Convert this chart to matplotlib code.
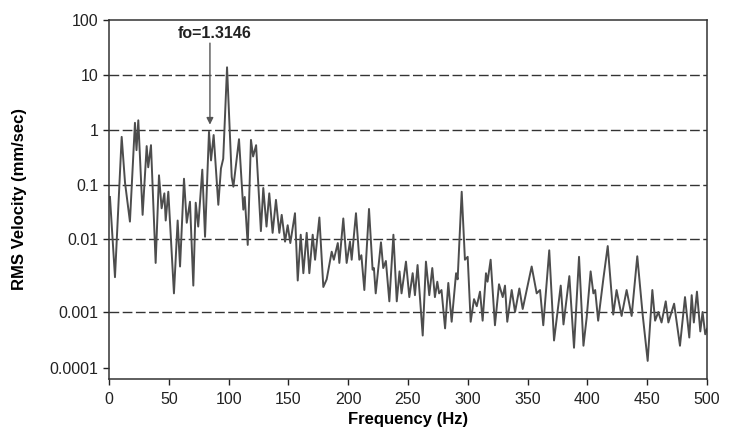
import numpy as np
import matplotlib
matplotlib.use("Agg")
import matplotlib.pyplot as plt

plt.rcParams['font.family'] = ['Liberation Sans', 'DejaVu Sans']

# ---- data ----
freq_hz = [0.8, 5, 10.6, 13.4, 17.5, 21.7, 23, 24.5, 28.1, 31.5, 32.8, 35.1, 39, 41.8, 44, 46.3,
           47.4, 49.6, 54.3, 57.4, 59.4, 62.7, 65, 67.7, 70.5, 72.5, 74.6, 78, 80.3, 83.6, 85.3,
           87.5, 91.4, 93.6, 95.5, 98.7, 102.6, 104, 108.7, 112.3, 113.5, 116, 118.7, 120.5, 123,
           127, 129, 131.7, 134, 136.8, 139.6, 142.4, 144.4, 147.2, 149.4, 151.6, 155.5, 157.8,
           160.3, 162.5, 165.3, 167.5, 170.3, 172.3, 175.9, 179.2, 182, 186.2, 188, 191.3, 192.6,
           195.9, 198.7, 201.5, 202.9, 206.5, 209.3, 211, 213.5, 217.4, 220.4, 221.5, 223, 227.4,
           229.3, 231.5, 234.4, 237.8, 240.6, 242.9, 244.6, 248.3, 251.1, 253.9, 255.8, 258, 262.3,
           265, 267.8, 270.3, 272.5, 274.5, 276, 278, 281, 283.7, 286.5, 290.2, 291.5, 294.9,
           297.6, 299.9, 302.4, 305.2, 307.5, 310.2, 312.4, 315.2, 316.5, 319.1, 322.7, 326.1,
           329.2, 331.1, 333, 336.7, 339.5, 343.1, 345.9, 353.4, 357.6, 360.4, 363.1, 368.1,
           372.1, 377.7, 380, 384.9, 388.8, 393, 396.7, 399.4, 402.7, 405, 406.5, 409, 413.4, 417,
           421.6, 424.4, 428.6, 432.8, 437, 441.7, 446.2, 450.4, 454.3, 456.6, 459.3, 462, 465.5,
           467.7, 472.5, 477.4, 481.6, 485.2, 487.2, 489, 491.6, 494.4, 496.3, 498.5, 500]
rms_velocity = [0.06, 0.003, 0.75, 0.11, 0.021, 1.35, 0.43, 1.5, 0.028, 0.51, 0.21, 0.53, 0.0047,
                0.15, 0.037, 0.07, 0.022, 0.075, 0.0018, 0.022, 0.0042, 0.13, 0.02, 0.049, 0.0023,
                0.047, 0.017, 0.19, 0.011, 0.93, 0.28, 0.81, 0.043, 0.2, 0.3, 13.8, 0.14, 0.093,
                0.68, 0.035, 0.06, 0.0083, 0.66, 0.33, 0.53, 0.014, 0.088, 0.017, 0.07, 0.013,
                0.053, 0.013, 0.028, 0.0092, 0.018, 0.0088, 0.03, 0.0027, 0.012, 0.0034, 0.013,
                0.0034, 0.012, 0.0052, 0.025, 0.0022, 0.0028, 0.0067, 0.0052, 0.0088, 0.0047,
                0.024, 0.0047, 0.0092, 0.0052, 0.03, 0.0052, 0.006, 0.002, 0.036, 0.0038, 0.004,
                0.0018, 0.009, 0.004, 0.005, 0.0014, 0.012, 0.0014, 0.0036, 0.0018, 0.0049, 0.0016,
                0.0034, 0.0017, 0.0044, 0.00038, 0.0049, 0.0017, 0.004, 0.0016, 0.0026, 0.0018,
                0.002, 0.00051, 0.0025, 0.00067, 0.0034, 0.0028, 0.075, 0.0052, 0.0057, 0.00067,
                0.0015, 0.0012, 0.0019, 0.0007, 0.0034, 0.0026, 0.0052, 0.00058, 0.0024, 0.0016,
                0.0023, 0.00067, 0.002, 0.001, 0.0021, 0.0011, 0.0042, 0.0018, 0.002, 0.00058,
                0.007, 0.00031, 0.0023, 0.0006, 0.0031, 0.00023, 0.0057, 0.00025, 0.0008, 0.0036,
                0.0018, 0.002, 0.0007, 0.0029, 0.008, 0.0009, 0.002, 0.00085, 0.002, 0.00085,
                0.0058, 0.0009, 0.000134, 0.002, 0.0007, 0.001, 0.00065, 0.0014, 0.00065, 0.0013,
                0.00025, 0.0016, 0.00035, 0.0017, 0.00065, 0.0019, 0.00045, 0.001, 0.0004, 0.0005]

y_ticks = [0.0001, 0.001, 0.01, 0.1, 1, 10, 100]
y_tick_labels = ['0.0001', '0.001', '0.01', '0.1', '1', '10', '100']
grid_levels = [0.001, 0.01, 0.1, 1, 10]
x_ticks = list(range(0, 501, 50))
annotation_text = 'fo=1.3146'
annotation_freq = 84.4

# ---- non-uniform log axis (as in the original figure) ----
_K = np.array([-6, -4, -3, -2, -1, 0, 1, 2, 4], dtype=float)
_P = np.array([-101, 11, 67, 140, 194, 249, 304, 359, 469], dtype=float)

def fwd(y):
    y = np.asarray(y, dtype=float)
    return np.interp(np.log10(np.clip(y, 1e-12, None)), _K, _P)

def inv(p):
    p = np.asarray(p, dtype=float)
    return 10 ** np.interp(p, _P, _K)

fig = plt.figure(figsize=(7.4, 4.37), dpi=100)
ax = fig.add_axes([109 / 740, 1 - 379 / 437, (707 - 109) / 740, (379 - 20) / 437])
ax.set_yscale('function', functions=(fwd, inv))
ax.set_xlim(0, 500)
ax.set_ylim(float(inv(0)), 100)

for g in grid_levels:
    ax.axhline(g, color='#333333', lw=1.0, ls=(0, (7, 2.5)), zorder=1)

ax.plot(freq_hz, rms_velocity, color='#4d4d4d', lw=1.4, zorder=2)

ax.set_yticks(y_ticks)
ax.set_yticklabels(y_tick_labels)
ax.yaxis.set_minor_locator(matplotlib.ticker.NullLocator())
ax.set_xticks(x_ticks)
ax.tick_params(axis='both', direction='out', length=4, width=1, labelsize=11.5, colors='#222222')
ax.tick_params(axis='x', pad=5)
for s in ax.spines.values():
    s.set_linewidth(1.1)
    s.set_color('#333333')

ax.set_xlabel('Frequency (Hz)', fontsize=12, fontweight='bold', labelpad=4)
ax.set_ylabel('RMS Velocity (mm/sec)', fontsize=12, fontweight='bold', labelpad=16)

ax.text(annotation_freq + 4, 58, annotation_text, ha='center', va='center',
        fontsize=11.5, fontweight='bold', color='#222222')
ax.annotate('', xy=(annotation_freq, 1.25), xytext=(annotation_freq, 38),
            arrowprops=dict(arrowstyle='-|>', color='#555555', lw=1.0, mutation_scale=10,
                            shrinkA=0, shrinkB=0))

fig.savefig('out.png', dpi=100)
